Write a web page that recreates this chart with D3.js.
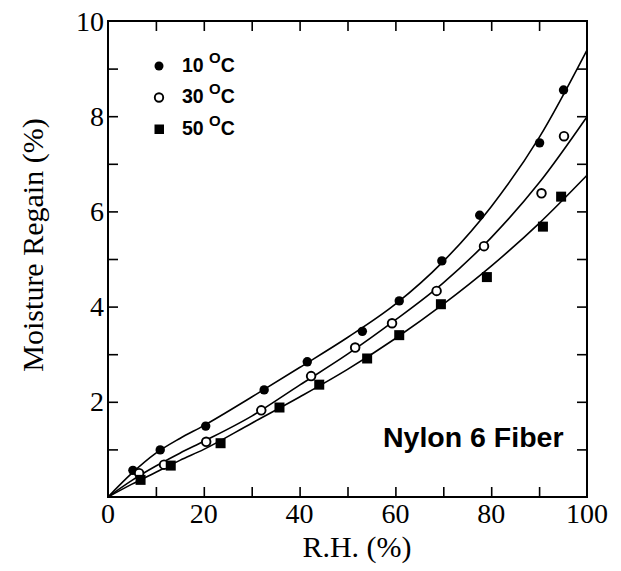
<!DOCTYPE html>
<html>
  <head>
    <meta charset="utf-8" />
    <script src="https://d3js.org/d3.v7.min.js"></script>
    <style>
      body { margin: 0; background: #fff; }
      .tick-label { font-family: "Liberation Serif", "Times New Roman", serif; }
      .title { font-family: "Liberation Serif", "Times New Roman", serif; }
      .bold-sans { font-family: "Liberation Sans", Arial, sans-serif; font-weight: bold; }
    </style>
  </head>
  <body>
    <svg id="chart"></svg>
    <script>
      // measured points, R.H. (%) vs moisture regain (%)
      var rh10 = [5.2, 10.9, 20.4, 32.6, 41.6, 53.1, 60.8, 69.7, 77.6, 90.1, 95.1];
      var mr10 = [0.56, 0.99, 1.49, 2.25, 2.84, 3.48, 4.12, 4.96, 5.92, 7.44, 8.55];
      var rh30 = [6.5, 11.7, 20.5, 32.0, 42.4, 51.6, 59.3, 68.6, 78.5, 90.5, 95.2];
      var mr30 = [0.50, 0.68, 1.16, 1.82, 2.54, 3.14, 3.65, 4.33, 5.27, 6.38, 7.58];
      var rh50 = [6.8, 13.1, 23.5, 35.8, 44.1, 54.1, 60.8, 69.5, 79.1, 90.8, 94.6];
      var mr50 = [0.36, 0.66, 1.13, 1.88, 2.36, 2.91, 3.40, 4.05, 4.62, 5.68, 6.31];

      // fitted curves
      var curveX = [0, 5, 10, 15, 20, 30, 40, 50, 60, 70, 80, 90, 100];
      var fit10 = [0, 0.5, 0.92, 1.23, 1.5, 2.1, 2.72, 3.35, 4.05, 4.95, 6.1, 7.55, 9.39];
      var fit30 = [0, 0.35, 0.65, 0.92, 1.17, 1.7, 2.35, 3.0, 3.72, 4.5, 5.45, 6.6, 7.99];
      var fit50 = [0, 0.27, 0.52, 0.77, 1.0, 1.55, 2.1, 2.68, 3.33, 4.05, 4.85, 5.75, 6.76];

      var xTicks = [0, 20, 40, 60, 80, 100];
      var yTicks = [2, 4, 6, 8, 10];
      var legendLabels = ["10", "30", "50"];

      var width = 621;
      var height = 571;
      var plotLeft = 108, plotRight = 587, plotTop = 21, plotBottom = 497;

      var svg = d3.select("#chart").attr("width", width).attr("height", height);

      var x = d3.scaleLinear().domain([0, 100]).range([plotLeft, plotRight]);
      var y = d3.scaleLinear().domain([0, 10]).range([plotBottom, plotTop]);

      // inward ticks on all four sides
      var tickLen = 10;
      svg.append("g").attr("transform", `translate(0,${plotBottom})`)
        .call(d3.axisTop(x).tickValues(d3.range(10, 100, 10)).tickSize(tickLen).tickFormat(""))
        .call(g => g.select(".domain").remove());
      svg.append("g").attr("transform", `translate(0,${plotTop})`)
        .call(d3.axisBottom(x).tickValues(d3.range(10, 100, 10)).tickSize(tickLen).tickFormat(""))
        .call(g => g.select(".domain").remove());
      svg.append("g").attr("transform", `translate(${plotLeft},0)`)
        .call(d3.axisRight(y).tickValues(d3.range(1, 10, 1)).tickSize(tickLen).tickFormat(""))
        .call(g => g.select(".domain").remove());
      svg.append("g").attr("transform", `translate(${plotRight},0)`)
        .call(d3.axisLeft(y).tickValues(d3.range(1, 10, 1)).tickSize(tickLen).tickFormat(""))
        .call(g => g.select(".domain").remove());
      svg.selectAll(".tick line").attr("stroke", "#000").attr("stroke-width", 1.6);

      // frame
      svg.append("rect")
        .attr("x", plotLeft).attr("y", plotTop)
        .attr("width", plotRight - plotLeft).attr("height", plotBottom - plotTop)
        .attr("fill", "none").attr("stroke", "#000").attr("stroke-width", 2);

      // tick labels
      svg.selectAll(".xl").data(xTicks).join("text")
        .attr("class", "tick-label xl")
        .attr("x", d => x(d)).attr("y", 523)
        .attr("text-anchor", "middle").style("font-size", "28px")
        .text(d => d);
      svg.selectAll(".yl").data(yTicks).join("text")
        .attr("class", "tick-label yl")
        .attr("x", plotLeft - 4).attr("y", d => y(d) + 9.5)
        .attr("text-anchor", "end").style("font-size", "28px")
        .text(d => d);

      // axis titles
      svg.append("text").attr("class", "title")
        .attr("x", 357).attr("y", 557)
        .attr("text-anchor", "middle").style("font-size", "30px")
        .text("R.H. (%)");
      svg.append("text").attr("class", "title")
        .attr("transform", "translate(43,245) rotate(-90)")
        .attr("text-anchor", "middle").style("font-size", "30px")
        .text("Moisture Regain (%)");

      // fitted curves
      var line = d3.line().x(d => x(d[0])).y(d => y(d[1])).curve(d3.curveMonotoneX);
      [fit10, fit30, fit50].forEach(function (fit) {
        svg.append("path")
          .datum(curveX.map((v, i) => [v, fit[i]]))
          .attr("d", line)
          .attr("fill", "none").attr("stroke", "#000").attr("stroke-width", 1.6);
      });

      // data markers
      svg.selectAll(".p10").data(rh10.map((v, i) => [v, mr10[i]])).join("circle")
        .attr("class", "p10")
        .attr("cx", d => x(d[0])).attr("cy", d => y(d[1])).attr("r", 4.7)
        .attr("fill", "#000");
      svg.selectAll(".p30").data(rh30.map((v, i) => [v, mr30[i]])).join("circle")
        .attr("class", "p30")
        .attr("cx", d => x(d[0])).attr("cy", d => y(d[1])).attr("r", 4.3)
        .attr("fill", "#fff").attr("stroke", "#000").attr("stroke-width", 1.9);
      svg.selectAll(".p50").data(rh50.map((v, i) => [v, mr50[i]])).join("rect")
        .attr("class", "p50")
        .attr("x", d => x(d[0]) - 5).attr("y", d => y(d[1]) - 5)
        .attr("width", 10).attr("height", 10).attr("fill", "#000");

      // legend
      var legend = svg.append("g");
      legendLabels.forEach(function (lab, i) {
        var cy = 66 + i * 31.5;
        if (i === 0) {
          legend.append("circle").attr("cx", 159).attr("cy", cy).attr("r", 4.5).attr("fill", "#000");
        } else if (i === 1) {
          legend.append("circle").attr("cx", 159).attr("cy", cy).attr("r", 4.2)
            .attr("fill", "#fff").attr("stroke", "#000").attr("stroke-width", 1.9);
        } else {
          legend.append("rect").attr("x", 154.5).attr("y", cy - 4.5)
            .attr("width", 9.5).attr("height", 9.5).attr("fill", "#000");
        }
        var t = legend.append("text").attr("class", "bold-sans")
          .attr("x", 182).attr("y", cy + 5.5).style("font-size", "19.5px");
        t.append("tspan").text(lab + " ");
        t.append("tspan").attr("dy", -9).style("font-size", "15px").text("O");
        t.append("tspan").attr("dy", 9).text("C");
      });

      svg.append("text").attr("class", "bold-sans")
        .attr("x", 383).attr("y", 447).style("font-size", "28.5px")
        .text("Nylon 6 Fiber");
    </script>
  </body>
</html>
